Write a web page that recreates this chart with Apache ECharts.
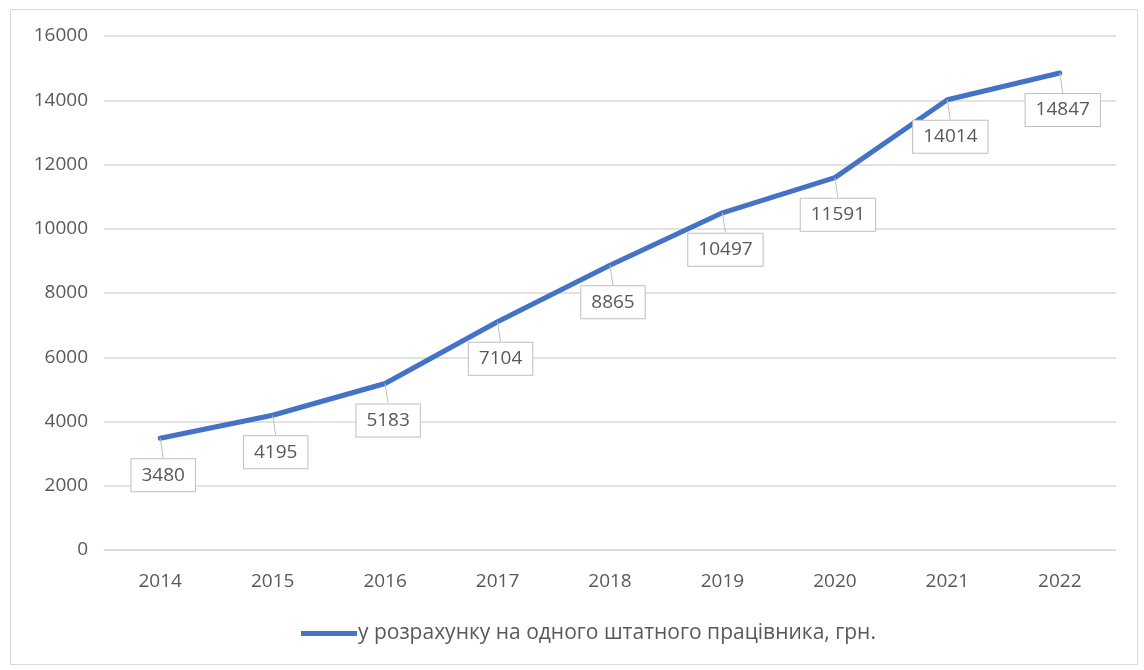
<!DOCTYPE html>
<html>
<head>
<meta charset="utf-8">
<script src="https://cdn.jsdelivr.net/npm/echarts@6/dist/echarts.min.js"></script>
<style>
  html, body { margin: 0; padding: 0; background: #ffffff; }
  #chart { width: 1144px; height: 670px; }
</style>
</head>
<body>
<div id="chart"></div>
<script>
// Years on the horizontal axis
const years = ['2014', '2015', '2016', '2017', '2018', '2019', '2020', '2021', '2022'];
// Amount per one staff employee, UAH
const perEmployee = [3480, 4195, 5183, 7104, 8865, 10497, 11591, 14014, 14847];
const seriesName = 'у розрахунку на одного штатного працівника, грн.';

const textColor = '#595959';
const fontFamily = '"Open Sans", "Liberation Sans", sans-serif';

const chart = echarts.init(document.getElementById('chart'), null, { renderer: 'canvas' });

chart.setOption({
  backgroundColor: '#ffffff',
  animation: false,
  graphic: [{
    type: 'rect',
    shape: { x: 10.5, y: 9.5, width: 1127, height: 655 },
    style: { fill: 'none', stroke: '#d9d9d9', lineWidth: 1 },
    silent: true
  }],
  grid: { left: 104, right: 28, top: 36, bottom: 120 },
  legend: {
    bottom: 21,
    left: 296,
    itemWidth: 56,
    itemHeight: 5,
    itemGap: 4,
    icon: 'rect',
    textStyle: { color: textColor, fontSize: 21, fontFamily: fontFamily, padding: [0, 0, 0, -4] },
    data: [seriesName]
  },
  xAxis: {
    type: 'category',
    data: years,
    boundaryGap: true,
    axisLine: { show: true, lineStyle: { color: '#d9d9d9', width: 1 } },
    axisTick: { show: false },
    axisLabel: { color: textColor, fontSize: 19, fontFamily: fontFamily, margin: 22 }
  },
  yAxis: {
    type: 'value',
    min: 0,
    max: 16000,
    interval: 2000,
    axisLine: { show: false },
    axisTick: { show: false },
    splitLine: { lineStyle: { color: '#d9d9d9', width: 1.5 } },
    axisLabel: {
      color: textColor, fontSize: 19, fontFamily: fontFamily, margin: 16,
      formatter: function (v) { return String(v); }
    }
  },
  series: [{
    name: seriesName,
    type: 'line',
    data: perEmployee,
    showSymbol: true,
    symbol: 'circle',
    symbolSize: 0.1,
    lineStyle: { color: '#4472C4', width: 5, cap: 'round', join: 'round' },
    itemStyle: { color: '#4472C4' },
    label: {
      show: true,
      position: 'inside',
      color: textColor,
      fontSize: 19,
      fontFamily: fontFamily,
      backgroundColor: '#ffffff',
      borderColor: '#bfbfbf',
      borderWidth: 1,
      padding: [7, 10, 6, 10]
    },
    labelLayout: { dx: 3, dy: 37 },
    labelLine: { show: true, length2: 0, lineStyle: { color: '#bfbfbf', width: 1 } }
  }]
});
</script>
</body>
</html>
